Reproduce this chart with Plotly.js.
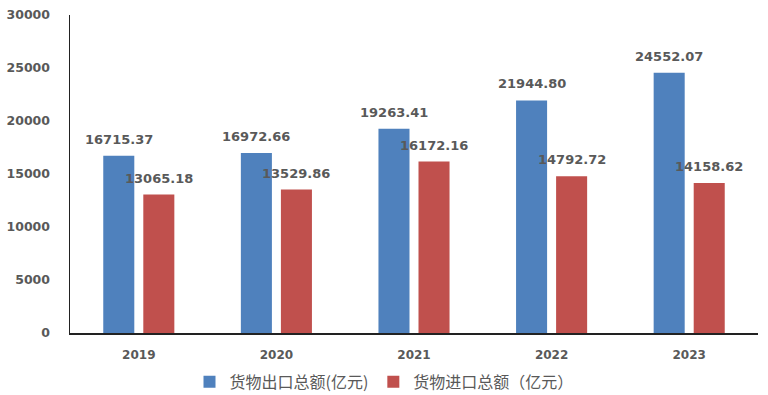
<!DOCTYPE html>
<html><head><meta charset="utf-8">
<script src="https://cdn.plot.ly/plotly-3.0.1.min.js"></script>
<style>html,body{margin:0;padding:0;background:#fff}#chart{width:768px;height:395px}</style>
</head><body><div id="chart"></div>
<script>
const years = ['2019','2020','2021','2022','2023'];
const exportVals = [16715.37, 16972.66, 19263.41, 21944.80, 24552.07];
const importVals = [13065.18, 13529.86, 16172.16, 14792.72, 14158.62];
const exportName = '货物出口总额(亿元)';
const importName = '货物进口总额（亿元）';
const yTicks = [0, 5000, 10000, 15000, 20000, 25000, 30000];

const labelFont = {family: 'DejaVu Sans', size: 13, color: '#595959', weight: 'bold'};
const annotations = [];
years.forEach((y, i) => {
  annotations.push({x: i, y: exportVals[i], xref: 'x', yref: 'y', text: exportVals[i].toFixed(2),
    showarrow: false, yanchor: 'bottom', xanchor: 'center', xshift: -20, yshift: 7, font: labelFont});
  annotations.push({x: i, y: importVals[i], xref: 'x', yref: 'y', text: importVals[i].toFixed(2),
    showarrow: false, yanchor: 'bottom', xanchor: 'center', xshift: 20, yshift: 7, font: labelFont});
});

const data = [
  {type: 'bar', name: exportName, x: years, y: exportVals, marker: {color: '#4F81BD'}, hoverinfo: 'none'},
  {type: 'bar', name: importName, x: years, y: importVals, marker: {color: '#C0504D'}, hoverinfo: 'none'}
];
const layout = {
  width: 768, height: 395,
  margin: {l: 70, r: 10, t: 15, b: 62},
  paper_bgcolor: '#fff', plot_bgcolor: '#fff',
  barmode: 'group', bargap: 0.418, bargroupgap: 0.225,
  showlegend: true,
  legend: {orientation: 'h', xref: 'container', yref: 'container', x: 0.5, xanchor: 'center', y: 0.033, yanchor: 'middle',
    font: {family: 'Noto Sans CJK SC', size: 16, color: '#595959'}, itemwidth: 30, tracegroupgap: 0},
  xaxis: {type: 'category', range: [-0.5, 4.5], autorange: false, showline: true, linecolor: '#222', linewidth: 1.5, showgrid: false, zeroline: false,
    ticks: '', ticklabelstandoff: 10,
    tickfont: {family: 'DejaVu Sans', size: 12, color: '#595959', weight: 'bold'}},
  yaxis: {range: [0, 30000], autorange: false, tickvals: yTicks, ticktext: yTicks.map(String), showline: true, linecolor: '#222', linewidth: 1.5,
    showgrid: false, zeroline: false, ticks: '', ticklabelstandoff: 16,
    tickfont: {family: 'DejaVu Sans', size: 12.5, color: '#595959', weight: 'bold'}},
  annotations: annotations
};
Plotly.newPlot('chart', data, layout, {staticPlot: true});
</script></body></html>
